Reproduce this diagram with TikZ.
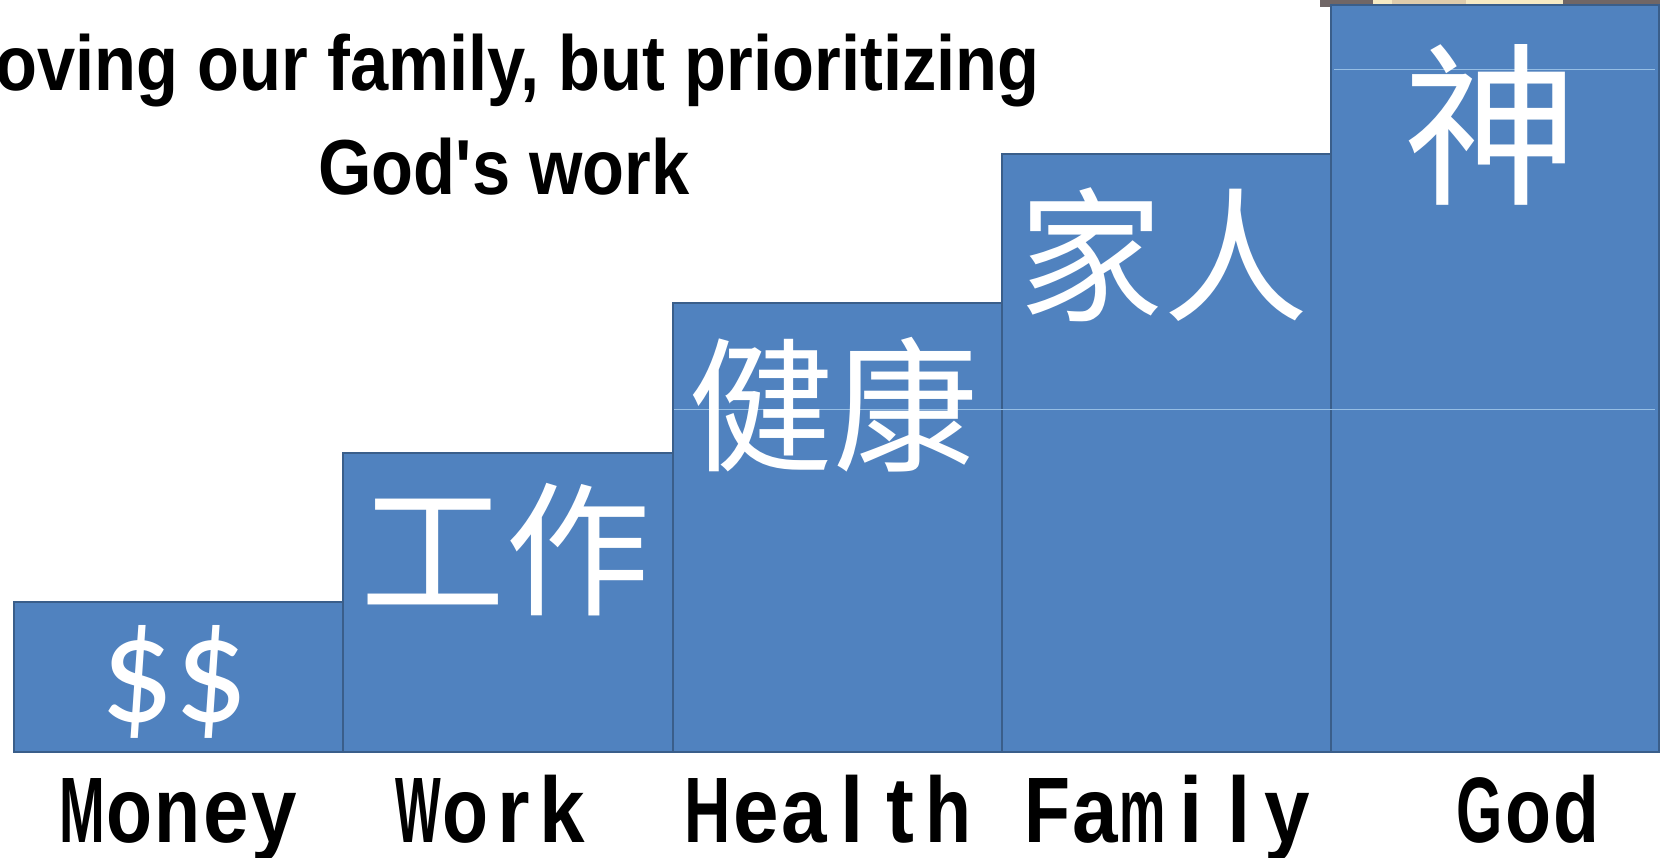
\documentclass[tikz,border=0pt]{standalone}
\usepackage{fontspec}
\setmainfont{Liberation Sans}
\newfontfamily\cjkfont{Noto Sans CJK TC}
\newfontfamily\carlfont{Carlito}
\definecolor{barblue}{RGB}{80,130,191}
\definecolor{bardark}{RGB}{58,94,138}
\definecolor{gridlight}{RGB}{150,190,228}
\definecolor{stripgray}{RGB}{112,102,102}
\definecolor{creamy}{RGB}{246,234,196}
\definecolor{beigey}{RGB}{222,204,172}
\newcommand\mc[2]{\makebox[48pt][c]{\scalebox{#1}[1]{#2}}}
\newcommand\monolabel[1]{\fontsize{93}{96}\selectfont\bfseries #1}
\tikzset{
  bar/.style={draw=bardark, fill=barblue, line width=2pt, inner sep=0pt, anchor=south west},
  cjktext/.style={text=white, inner sep=0pt, font=\cjkfont\fontsize{145}{150}\selectfont},
  label/.style={anchor=base, inner sep=0pt, text=black},
  title/.style={anchor=base, inner sep=0pt, font=\fontsize{78}{80}\selectfont\bfseries},
  gridline/.style={draw=gridlight, line width=1pt}
}
\begin{document}
\begin{tikzpicture}[x=1pt,y=-1pt]
\useasboundingbox (0,0) rectangle (1667,857);
\clip (0,0) rectangle (1667,857);
\fill[white] (0,0) rectangle (1667,857);
% top strip at right
\fill[stripgray] (1320,0) rectangle (1660,7);
\fill[creamy] (1373,0) rectangle (1563,5);
\fill[beigey] (1392,0) rectangle (1466,5);
% bars
\node[bar, minimum width=329pt, minimum height=150pt] (money) at (13,753) {};
\node[bar, minimum width=330pt, minimum height=299pt] (work) at (342,753) {};
\node[bar, minimum width=329pt, minimum height=449pt] (health) at (672,753) {};
\node[bar, minimum width=329pt, minimum height=598pt] (family) at (1001,753) {};
\node[bar, minimum width=328pt, minimum height=747pt] (god) at (1330,753) {};
% faint lines
\coordinate (g1a) at (1334,69);
\coordinate (g1b) at (1655,69);
\coordinate (g2a) at (674,409);
\coordinate (g2b) at (1655,409);
\draw[gridline] (g1a) -- (g1b);
\draw[gridline] (g2a) -- (g2b);
% texts in bars
\node[text=white, inner sep=0pt, font=\carlfont\fontsize{152}{155}\selectfont] (tmoney) at (174,682) {\scalebox{0.96}[1]{\$\$}};
\node[cjktext] (twork) at (505,550) {工作};
\node[cjktext] (thealth) at (833,405) {健康};
\node[cjktext] (tfamily) at (1163,255) {家人};
\node[cjktext, font=\cjkfont\fontsize{175}{180}\selectfont] (tgod) at (1491,125) {神};
% bottom labels
\node[label] (lmoney) at (178,842) {\monolabel{\mc{.59}{M}\mc{.81}{o}\mc{.81}{n}\mc{.88}{e}\mc{.88}{y}}};
\node[label] (lwork) at (490,842) {\monolabel{\mc{.52}{W}\mc{.81}{o}\mc{.9}{r}\mc{.88}{k}}};
\node[label] (lhealth) at (828,842) {\monolabel{\mc{.69}{H}\mc{.88}{e}\mc{.88}{a}\mc{.9}{l}\mc{.9}{t}\mc{.81}{h}}};
\node[label] (lfamily) at (1167,842) {\monolabel{\mc{.81}{F}\mc{.88}{a}\mc{.56}{m}\mc{.9}{i}\mc{.9}{l}\mc{.88}{y}}};
\node[label] (lgod) at (1528,842) {\monolabel{\mc{.64}{G}\mc{.81}{o}\mc{.81}{d}}};
% title
\node[title] (title1) at (508,90) {\scalebox{0.88}[1]{loving our family, but prioritizing}};
\node[title] (title2) at (504,194) {\scalebox{0.88}[1]{God\textquotesingle s work}};
\end{tikzpicture}
\end{document}
